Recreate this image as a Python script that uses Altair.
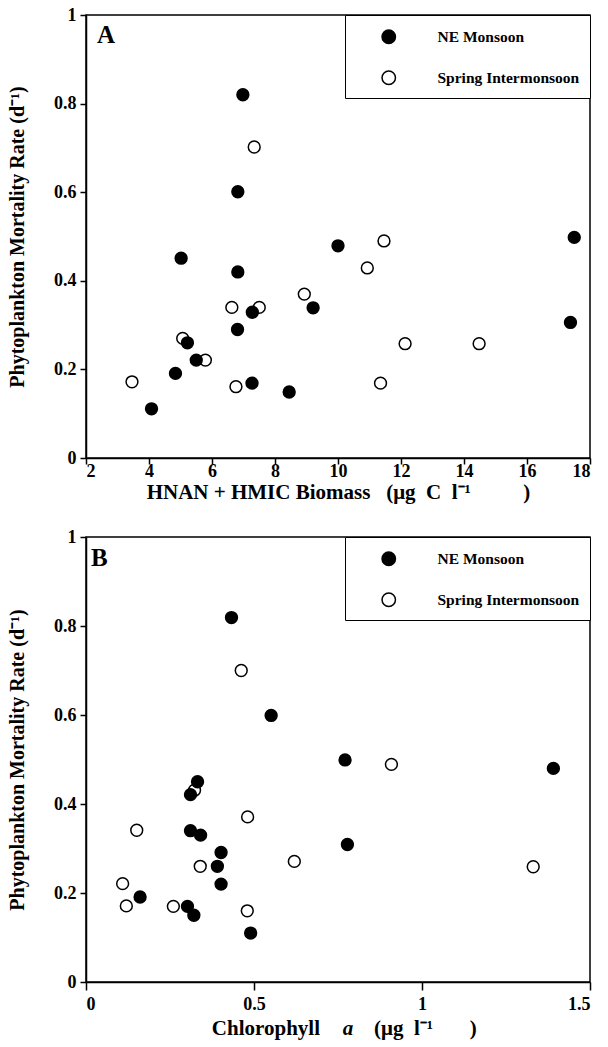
import altair as alt
import pandas as pd

FONT = "Liberation Serif"
SEASONS = ["NE Monsoon", "Spring Intermonsoon"]

# Panel A: HNAN + HMIC biomass vs mortality
a_ne_x = [6.98, 6.82, 5.02, 6.82, 10.00, 17.50, 17.38, 7.28, 9.21, 6.81, 5.22, 5.50, 4.84, 7.27, 8.45, 4.08]
a_ne_y = [0.820, 0.601, 0.451, 0.420, 0.479, 0.498, 0.306, 0.329, 0.339, 0.290, 0.260, 0.221, 0.191, 0.169, 0.149, 0.111]
a_sp_x = [7.34, 11.46, 10.93, 8.93, 6.63, 7.50, 5.07, 12.13, 14.48, 5.79, 3.46, 6.76, 11.35]
a_sp_y = [0.702, 0.490, 0.429, 0.370, 0.340, 0.340, 0.270, 0.258, 0.258, 0.221, 0.172, 0.161, 0.169]

# Panel B: chlorophyll a vs mortality
b_ne_x = [0.433, 0.551, 0.771, 1.391, 0.332, 0.311, 0.311, 0.341, 0.778, 0.402, 0.391, 0.402, 0.161, 0.302, 0.321, 0.490]
b_ne_y = [0.819, 0.599, 0.499, 0.480, 0.450, 0.421, 0.340, 0.330, 0.309, 0.291, 0.260, 0.220, 0.191, 0.170, 0.150, 0.110]
b_sp_x = [0.462, 0.909, 0.323, 0.481, 0.151, 0.620, 0.340, 1.331, 0.109, 0.120, 0.260, 0.480]
b_sp_y = [0.700, 0.489, 0.431, 0.371, 0.341, 0.271, 0.260, 0.259, 0.221, 0.171, 0.170, 0.160]

a_xticks = [2, 4, 6, 8, 10, 12, 14, 16, 18]
b_xticks = [0, 0.5, 1, 1.5]
y_ticks = [0, 0.2, 0.4, 0.6, 0.8, 1]

NB = "\u00a0"
Y_TITLE = "Phytoplankton Mortality Rate (d\u207b\u00b9)"
A_X_TITLE = ("HNAN + HMIC Biomass" + NB * 3 + "(\u03bcg" + NB * 2 + "C" + NB * 2
             + "l\u207b\u00b9" + NB * 10 + ")")
B_T1 = "Chlorophyll"
B_T2 = "a"
B_T3 = "(\u03bcg" + NB * 2 + "l\u207b\u00b9" + NB * 7 + ")"


def make_df(nx, ny, sx, sy):
    return pd.DataFrame({
        "x": sx + nx,
        "y": sy + ny,
        "season": [SEASONS[1]] * len(sx) + [SEASONS[0]] * len(nx),
    })


def panel(df, xdom, xvals, xtitle, letter, x_tick, x_lpad, x_tpad, letter_x, letter_y):
    xaxis_kw = dict(values=xvals, format="~g", tickSize=x_tick, labelPadding=x_lpad)
    if xtitle is not None:
        xaxis_kw["title"] = xtitle
        xaxis_kw["titlePadding"] = x_tpad
        xaxis_kw["titleFontSize"] = 21
    else:
        xaxis_kw["title"] = None
    pts = alt.Chart(df).mark_point(
        shape="circle", filled=True, stroke="black", strokeWidth=1.5, size=140, opacity=1
    ).encode(
        x=alt.X("x:Q", scale=alt.Scale(domain=xdom, nice=False, zero=False),
                axis=alt.Axis(**xaxis_kw)),
        y=alt.Y("y:Q", scale=alt.Scale(domain=[0, 1], nice=False),
                axis=alt.Axis(values=y_ticks, format="~g", title=Y_TITLE,
                              tickSize=6, labelPadding=4, titlePadding=26)),
        fill=alt.Fill("season:N",
                      scale=alt.Scale(domain=SEASONS, range=["black", "white"]),
                      legend=alt.Legend(title=NB, titleFontSize=4, titlePadding=0,
                                        orient="top-right", offset=0,
                                        strokeColor="black", fillColor="white",
                                        padding=10, rowPadding=21,
                                        symbolType="circle", symbolSize=180,
                                        symbolStrokeColor="black", symbolStrokeWidth=1.5,
                                        symbolOffset=26, labelOffset=41,
                                        labelFont=FONT, labelFontSize=15.5,
                                        labelFontWeight="bold", labelColor="black")),
    )
    lab = alt.Chart(pd.DataFrame({"t": [letter]})).mark_text(
        font=FONT, fontSize=25, fontWeight="bold", align="left",
        baseline="alphabetic", color="black"
    ).encode(text="t:N", x=alt.value(letter_x), y=alt.value(letter_y))
    return [pts, lab]


pa_layers = panel(make_df(a_ne_x, a_ne_y, a_sp_x, a_sp_y), [2, 18], a_xticks, A_X_TITLE,
                  "A", 6, -2, 1, 11, 28)
pa = alt.layer(*pa_layers).properties(width=504, height=443)

pb_layers = panel(make_df(b_ne_x, b_ne_y, b_sp_x, b_sp_y), [0, 1.5], b_xticks, None,
                  "B", 8, 5, 0, 5, 29)

t1 = alt.Chart(pd.DataFrame({"t": [B_T1]})).mark_text(
    font=FONT, fontSize=21, fontWeight="bold", align="right", baseline="alphabetic", color="black"
).encode(text="t:N", x=alt.value(234), y=alt.value(498))
t2 = alt.Chart(pd.DataFrame({"t": [B_T2]})).mark_text(
    font=FONT, fontSize=21, fontWeight="bold", fontStyle="italic", align="center",
    baseline="alphabetic", color="black"
).encode(text="t:N", x=alt.value(262), y=alt.value(498))
t3 = alt.Chart(pd.DataFrame({"t": [B_T3]})).mark_text(
    font=FONT, fontSize=21, fontWeight="bold", align="left", baseline="alphabetic", color="black"
).encode(text="t:N", x=alt.value(288), y=alt.value(498))

pb = alt.layer(*pb_layers, t1, t2, t3).properties(width=504, height=445)

chart = alt.vconcat(pa, pb, spacing=24).resolve_scale(fill="independent").configure_view(
    stroke="black", strokeWidth=1.5
).configure_axis(
    domainColor="black", domainWidth=1.5, tickColor="black", tickWidth=1.5,
    labelFont=FONT, labelFontSize=18, labelFontWeight="bold", labelColor="black",
    titleFont=FONT, titleFontSize=20, titleFontWeight="bold", titleColor="black",
    grid=False
).properties(
    padding={"left": 6, "top": 5, "right": 4, "bottom": 4},
    background="white"
)

chart.save("out.html", embed_options={"renderer": "svg", "actions": False})
